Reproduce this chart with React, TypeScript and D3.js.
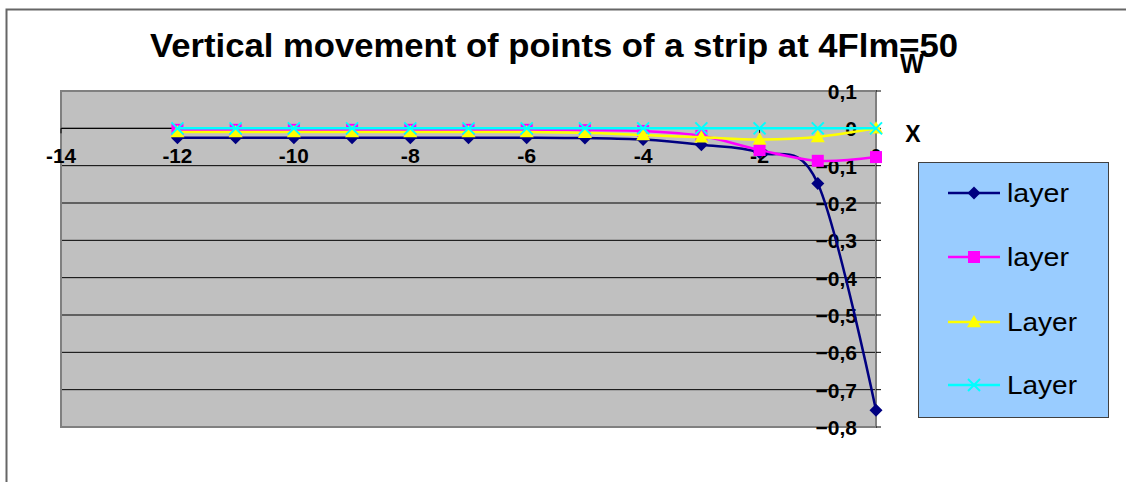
import React from "react";
import * as d3 from "d3";

const xValues = [-12, -11, -10, -9, -8, -7, -6, -5, -4, -3, -2, -1, 0];
const navySeries = [-0.025, -0.025, -0.025, -0.025, -0.025, -0.025, -0.025, -0.026, -0.03, -0.044, -0.065, -0.148, -0.755];
const magentaSeries = [-0.004, -0.004, -0.004, -0.004, -0.004, -0.004, -0.004, -0.005, -0.007, -0.02, -0.058, -0.087, -0.077];
const yellowSeries = [-0.01, -0.01, -0.01, -0.01, -0.01, -0.01, -0.01, -0.012, -0.018, -0.024, -0.03, -0.023, 0];
const cyanSeries = [0, 0, 0, 0, 0, 0, 0, 0, 0, 0, 0, 0, 0];
const seriesNames = ["layer", "layer", "Layer", "Layer"];
const xTicks = [-14, -12, -10, -8, -6, -4, -2, 0];
const yTicks = [0.1, 0, -0.1, -0.2, -0.3, -0.4, -0.5, -0.6, -0.7, -0.8];

const W = 1126;
const H = 482;
const plot = { left: 61, right: 876, top: 91, bottom: 427 };
const FONT = "'Liberation Sans', Arial, sans-serif";

type Marker = "diamond" | "square" | "triangle" | "cross";
const seriesDefs: { values: number[]; color: string; marker: Marker }[] = [
  { values: navySeries, color: "#000080", marker: "diamond" },
  { values: magentaSeries, color: "#FF00FF", marker: "square" },
  { values: yellowSeries, color: "#FFFF00", marker: "triangle" },
  { values: cyanSeries, color: "#00FFFF", marker: "cross" },
];

function MarkerShape({ type, x, y, color }: { type: Marker; x: number; y: number; color: string }) {
  if (type === "diamond") {
    const r = 6.5;
    return <path d={`M${x},${y - r}L${x + r},${y}L${x},${y + r}L${x - r},${y}Z`} fill={color} />;
  }
  if (type === "square") {
    const r = 6;
    return <rect x={x - r} y={y - r} width={2 * r} height={2 * r} fill={color} />;
  }
  if (type === "triangle") {
    const r = 7;
    return <path d={`M${x},${y - r}L${x + r},${y + r * 0.75}L${x - r},${y + r * 0.75}Z`} fill={color} />;
  }
  const r = 6;
  return (
    <g stroke={color} strokeWidth={2}>
      <line x1={x - r} y1={y - r} x2={x + r} y2={y + r} />
      <line x1={x - r} y1={y + r} x2={x + r} y2={y - r} />
    </g>
  );
}

function fmt(v: number) {
  const s = d3.format(".1f")(v).replace(".", ",");
  return s === "0,0" || s === "-0,0" ? "0" : s;
}

export default function App() {
  const x = d3.scaleLinear().domain([-14, 0]).range([plot.left, plot.right]);
  const y = d3.scaleLinear().domain([0.1, -0.8]).range([plot.top, plot.bottom]);
  const line = d3
    .line<number>()
    .x((_, i) => x(xValues[i]))
    .y((d) => y(d))
    .curve(d3.curveCatmullRom.alpha(0));

  const legendY = [193, 257, 322, 385];

  return (
    <svg width={W} height={H} style={{ position: "absolute", left: 0, top: 0, background: "#fff" }} fontFamily={FONT}>
      <rect x={0} y={0} width={W} height={H} fill="#fff" />
      <path d={`M6.5,${H + 5}L6.5,9.5L${W + 5},9.5`} fill="none" stroke="#666" strokeWidth={2} />

      <text x={150} y={57} fontSize={34} fontWeight="bold" textLength={808} lengthAdjust="spacingAndGlyphs">
        Vertical movement of points of a strip at 4Flm=50
      </text>
      <text x={912} y={73} fontSize={27} fontWeight="bold" textAnchor="middle" textLength={24} lengthAdjust="spacingAndGlyphs">
        W
      </text>

      <rect x={plot.left} y={plot.top} width={plot.right - plot.left} height={plot.bottom - plot.top} fill="#C0C0C0" />
      {yTicks.map((t) => (
        <line key={"g" + t} x1={plot.left} x2={plot.right} y1={y(t)} y2={y(t)} stroke="#000" strokeWidth={1} />
      ))}
      <rect x={plot.left} y={plot.top} width={plot.right - plot.left} height={plot.bottom - plot.top} fill="none" stroke="#808080" strokeWidth={2} />

      <line x1={plot.left} x2={plot.right} y1={y(0)} y2={y(0)} stroke="#000" strokeWidth={1} />
      {xTicks.map((t) => (
        <g key={"xt" + t}>
          <line x1={x(t)} x2={x(t)} y1={y(0)} y2={y(0) + 5} stroke="#000" />
          <text x={x(t)} y={y(0) + 35} textAnchor="middle" fontSize={21} fontWeight="bold" textLength={String(t).length > 2 ? 30 : String(t).length > 1 ? 19 : 11} lengthAdjust="spacingAndGlyphs">
            {t}
          </text>
        </g>
      ))}
      {yTicks.map((t) => (
        <g key={"yt" + t}>
          <line x1={plot.right} x2={plot.right + 5} y1={y(t)} y2={y(t)} stroke="#000" />
          <text x={857} y={y(t) + 8} textAnchor="end" fontSize={21} fontWeight="bold">
            {fmt(t)}
          </text>
        </g>
      ))}
      <text x={913} y={142} textAnchor="middle" fontSize={23} fontWeight="bold">
        X
      </text>

      {seriesDefs.map((s, si) => (
        <g key={"s" + si}>
          <path d={line(s.values) || ""} fill="none" stroke={s.color} strokeWidth={2.5} />
          {s.values.map((v, i) => (
            <MarkerShape key={i} type={s.marker} x={x(xValues[i])} y={y(v)} color={s.color} />
          ))}
        </g>
      ))}

      <rect x={918.5} y={162.5} width={190} height={255} fill="#99CCFF" stroke="#404040" strokeWidth={1} />
      {seriesDefs.map((s, i) => (
        <g key={"l" + i}>
          <line x1={948} x2={1000} y1={legendY[i]} y2={legendY[i]} stroke={s.color} strokeWidth={2.5} />
          <MarkerShape type={s.marker} x={974} y={legendY[i]} color={s.color} />
          <text x={1007} y={legendY[i] + 9} fontSize={26} textLength={seriesNames[i] === "Layer" ? 70 : 62} lengthAdjust="spacingAndGlyphs">
            {seriesNames[i]}
          </text>
        </g>
      ))}
    </svg>
  );
}
